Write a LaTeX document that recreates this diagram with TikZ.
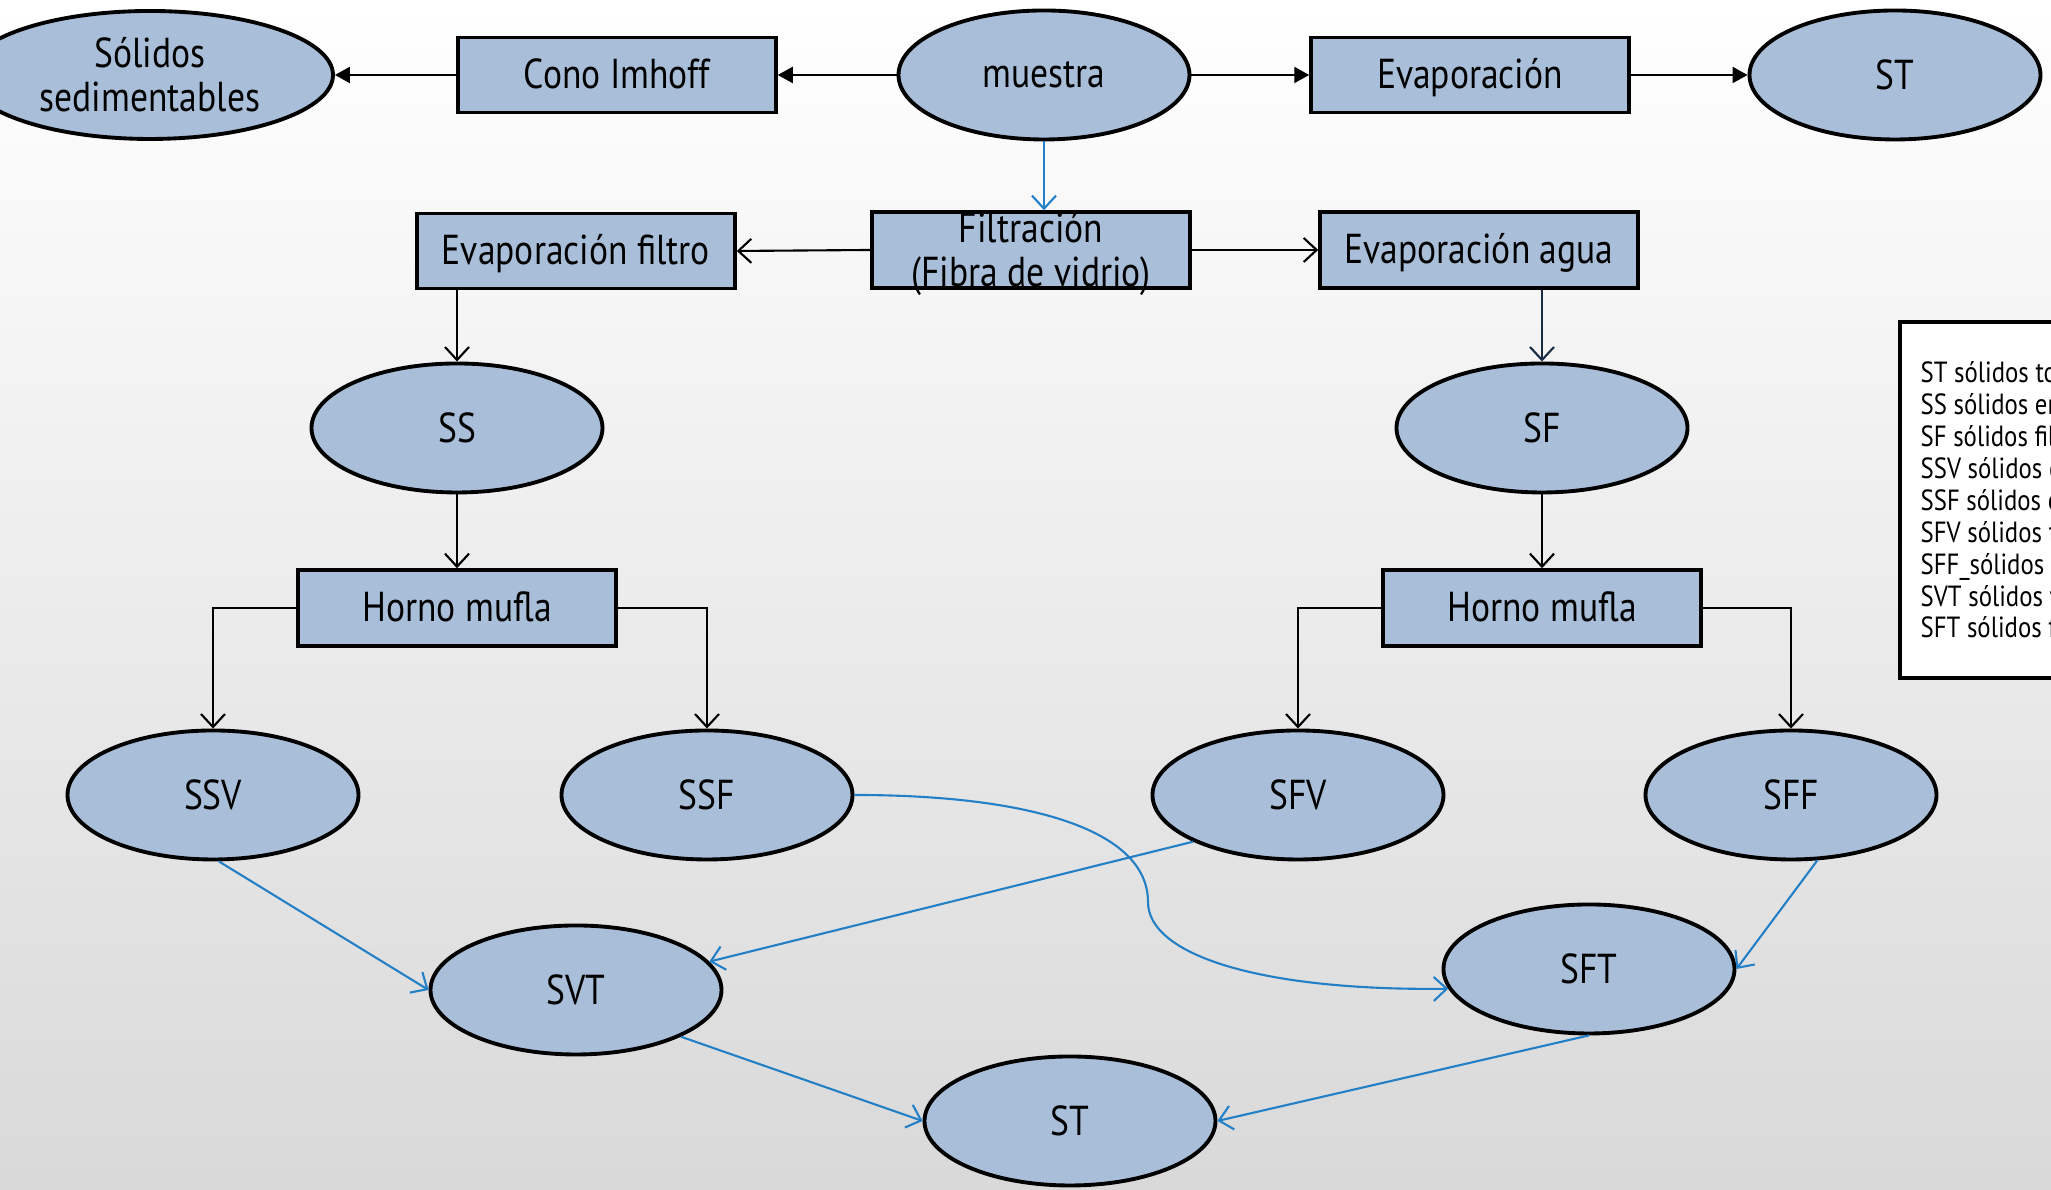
\documentclass[tikz,border=0pt]{standalone}
\usepackage{fontspec}
\setmainfont{PT Sans}[FakeStretch=0.85]
\definecolor{PaleSteel}{RGB}{169,190,216}
\definecolor{FlowBlue}{RGB}{36,128,198}
\definecolor{InkNavy}{RGB}{24,44,70}
\colorlet{ColourFill}{PaleSteel}
\colorlet{ColourFlow}{FlowBlue}
\colorlet{ColourDark}{InkNavy}
\usetikzlibrary{arrows.meta,shapes.geometric}

\tikzset{
  labelfont/.style={font=\fontsize{11.9}{12.4}\selectfont},
  stage/.style={labelfont,draw,line width=1pt,fill=ColourFill,rectangle,
    minimum width=3.18cm,minimum height=0.75cm,inner sep=0pt,
    text height=9pt,text depth=1.5pt},
  solids/.style={labelfont,draw,line width=1.1pt,fill=ColourFill,ellipse,
    minimum width=2.91cm,minimum height=1.29cm,inner sep=0pt,align=center},
  topflow/.style={line width=0.6pt,-{Triangle[length=1.5mm,width=1.6mm]}},
  plainflow/.style={line width=0.6pt,-{Straight Barb[length=1.3mm,width=2.4mm]}},
  blueflow/.style={plainflow,ColourFlow},
  keytext/.style={anchor=base west,inner sep=0pt,font=\fontsize{8.3}{9}\selectfont},
}

\begin{document}
\begin{tikzpicture}

  \useasboundingbox (0,0) rectangle (20.51cm,11.90cm);
  \clip (0,0) rectangle (20.51cm,11.90cm);
  \shade[top color=white,bottom color=black!15] (0,0) rectangle (20.51cm,11.90cm);

  % top row
  \node[solids,minimum width=3.66cm,minimum height=1.28cm] (solidos) at (1.50cm,11.15cm) {Sólidos\\sedimentables};
  \node[stage] (cono) at (6.17cm,11.15cm) {Cono Imhoff};
  \node[solids] (muestra) at (10.44cm,11.15cm) {muestra};
  \node[stage] (evap) at (14.70cm,11.15cm) {Evaporación};
  \node[solids] (st) at (18.95cm,11.15cm) {ST};

  % filtration row
  \node[stage,minimum height=0.76cm] (filtr) at (10.31cm,9.40cm) {};
  \node[labelfont,align=center,inner sep=0pt] (filtrtext) at ([yshift=-0.04cm]filtr.center) {Filtración\\(Fibra de vidrio)};
  \node[stage] (evapfil) at (5.76cm,9.39cm) {Evaporación filtro};
  \node[stage,minimum height=0.76cm] (evapagua) at (14.79cm,9.40cm) {Evaporación agua};

  \node[solids] (ss) at (4.57cm,7.62cm) {SS};
  \node[solids] (sf) at (15.42cm,7.62cm) {SF};

  \node[stage,minimum height=0.76cm] (horno1) at (4.57cm,5.82cm) {Horno mufla};
  \node[stage,minimum height=0.76cm] (horno2) at (15.42cm,5.82cm) {Horno mufla};

  \node[solids] (ssv) at (2.13cm,3.95cm) {SSV};
  \node[solids] (ssf) at (7.07cm,3.95cm) {SSF};
  \node[solids] (sfv) at (12.98cm,3.95cm) {SFV};
  \node[solids] (sff) at (17.91cm,3.95cm) {SFF};

  \node[solids] (svt) at (5.76cm,2.00cm) {SVT};
  \node[solids] (sft) at (15.89cm,2.21cm) {SFT};
  \node[solids] (stb) at (10.70cm,0.69cm) {ST};

  % black connectors
  \draw[topflow] (muestra) -- (cono);
  \draw[topflow] (cono) -- (solidos);
  \draw[topflow] (muestra) -- (evap);
  \draw[topflow] (evap) -- (st);

  \draw[blueflow] (muestra.south) -- (muestra.south |- filtr.north);
  \draw[plainflow] (filtr.west) -- (evapfil.east);
  \draw[plainflow] (filtr.east) -- (evapagua.west);

  \draw[plainflow] (evapfil.south -| ss.north) -- (ss.north);
  \draw[plainflow,ColourDark] (evapagua.south -| sf.north) -- (sf.north);
  \draw[plainflow] (ss) -- (horno1);
  \draw[plainflow] (sf) -- (horno2);

  \draw[plainflow] (horno1.west) -| (ssv.north);
  \draw[plainflow] (horno1.east) -| (ssf.north);
  \draw[plainflow] (horno2.west) -| (sfv.north);
  \draw[plainflow] (horno2.east) -| (sff.north);

  % blue connectors
  \coordinate (bend) at (11.48cm,2.88cm);
  \draw[blueflow] (ssv.-85) -- (svt.west);
  \draw[blueflow] (sfv.204) -- (svt.12);
  \draw[blueflow] (ssf.east) .. controls (10.3cm,3.95cm) and (11.48cm,3.6cm) .. (bend)
    .. controls (11.48cm,2.35cm) and (12.6cm,1.99cm) .. (sft.188);
  \draw[blueflow] (sff.-68) -- (sft.east);
  \draw[blueflow] (svt.-24) -- (stb.west);
  \draw[blueflow] (sft.south) -- (stb.east);

  % key
  \draw[line width=1pt,fill=white] (19.00cm,5.12cm) rectangle (21.00cm,8.68cm);
  \node[keytext] (key1) at (19.20cm,8.07cm) {ST sólidos totales};
  \node[keytext] (key2) at (19.20cm,7.75cm) {SS sólidos en suspensión};
  \node[keytext] (key3) at (19.20cm,7.43cm) {SF sólidos filtrables};
  \node[keytext] (key4) at (19.20cm,7.11cm) {SSV sólidos en suspensión volátiles};
  \node[keytext] (key5) at (19.20cm,6.79cm) {SSF sólidos en suspensión fijos};
  \node[keytext] (key6) at (19.20cm,6.47cm) {SFV sólidos filtrables volátiles};
  \node[keytext] (key7) at (19.20cm,6.15cm) {SFF\_sólidos filtrables fijos};
  \node[keytext] (key8) at (19.20cm,5.83cm) {SVT sólidos volátiles totales};
  \node[keytext] (key9) at (19.20cm,5.52cm) {SFT sólidos fijos totales};

\end{tikzpicture}
\end{document}
